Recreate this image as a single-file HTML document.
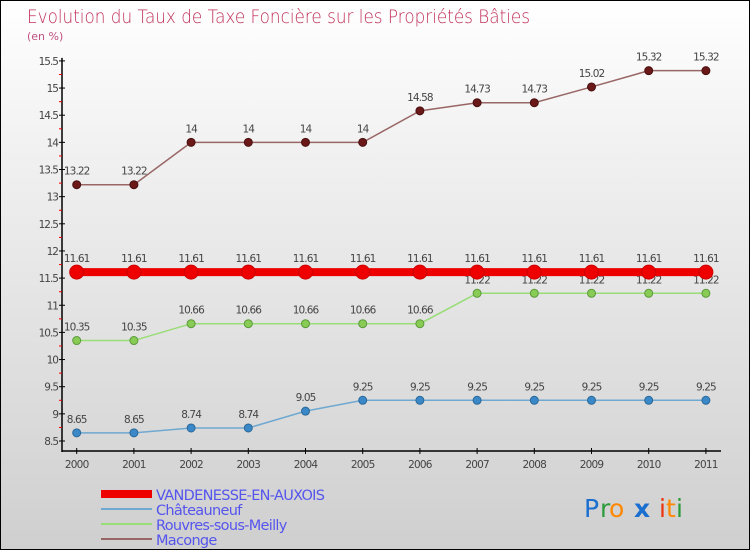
<!DOCTYPE html>
<html><head><meta charset="utf-8"><style>
body{margin:0}
#c{width:750px;height:550px;position:relative;box-sizing:border-box;border:1px solid #000;background:linear-gradient(#ffffff,#f2f2f2 25%,#cfcfcf);overflow:hidden;font-family:"DejaVu Sans","Liberation Sans",sans-serif}
svg text{font-family:"DejaVu Sans","Liberation Sans",sans-serif}
</style></head><body>
<div id="c">
<svg id="s" width="750" height="550" xmlns="http://www.w3.org/2000/svg">
<text x="26" y="22" font-size="19" fill="#c0305a" font-weight="200" textLength="503" lengthAdjust="spacingAndGlyphs">Evolution du Taux de Taxe Foncière sur les Propriétés Bâties</text>
<text x="26" y="39" font-size="11" fill="#c05080">(en %)</text>
<g id="axes"></g><g id="series"></g>
<g>
<rect x="100" y="489" width="51" height="8" fill="#ee0000"/>
<text x="155" y="499" font-size="14.5" fill="#5555ee" letter-spacing="-0.7">VANDENESSE-EN-AUXOIS</text>
<line x1="100" y1="508" x2="151" y2="508" stroke="#6fa8d0" stroke-width="2"/>
<text x="155" y="514" font-size="14.5" fill="#5555ee" letter-spacing="-0.7">Châteauneuf</text>
<line x1="100" y1="523" x2="151" y2="523" stroke="#99dd77" stroke-width="2"/>
<text x="155" y="529" font-size="14.5" fill="#5555ee" letter-spacing="-0.7">Rouvres-sous-Meilly</text>
<line x1="100" y1="538" x2="151" y2="538" stroke="#996666" stroke-width="2"/>
<text x="155" y="544" font-size="14.5" fill="#5555ee" letter-spacing="-0.7">Maconge</text>
</g>
<g font-size="25" font-family="Liberation Sans,sans-serif">
<text x="583" y="516" fill="#1a6fd0">P</text><text x="599" y="516" fill="#2a9a3a">r</text><text x="608" y="516" fill="#ff8800">o</text><text x="633" y="516" fill="#1a6fd0" font-weight="bold">x</text><text x="658" y="516" fill="#ee3311">i</text><text x="665" y="516" fill="#ff8800">t</text><text x="675" y="516" fill="#2a9a3a">i</text>
</g>
</svg>
</div>
<script>
const years=["2000","2001","2002","2003","2004","2005","2006","2007","2008","2009","2010","2011"];
const vandenesse=[11.61,11.61,11.61,11.61,11.61,11.61,11.61,11.61,11.61,11.61,11.61,11.61];
const chateauneuf=[8.65,8.65,8.74,8.74,9.05,9.25,9.25,9.25,9.25,9.25,9.25,9.25];
const rouvres=[10.35,10.35,10.66,10.66,10.66,10.66,10.66,11.22,11.22,11.22,11.22,11.22];
const maconge=[13.22,13.22,14,14,14,14,14.58,14.73,14.73,15.02,15.32,15.32];
const yTicks=[8.5,9,9.5,10,10.5,11,11.5,12,12.5,13,13.5,14,14.5,15,15.5];
const NS="http://www.w3.org/2000/svg";
const X=i=>75.7+i*57.2;
const Y=v=>440-(v-8.5)*54.3;
function mk(t,a,p){const e=document.createElementNS(NS,t);for(const k in a)e.setAttribute(k,a[k]);p.appendChild(e);return e;}
const ax=document.getElementById('axes');
let l=mk('line',{x1:61,y1:Y(15.5)-3,x2:61,y2:451,stroke:'#000','stroke-width':1.5},ax);


l=mk('line',{x1:61,y1:450,x2:720,y2:450,stroke:'#000','stroke-width':1.5},ax);


yTicks.forEach(v=>{
 const y=Y(v);
 mk('line',{x1:58,y1:y,x2:64,y2:y,stroke:'#000'},ax);
 mk('line',{x1:58,y1:y+13.6,x2:61,y2:y+13.6,stroke:v>8.5?'#e00':'none'},ax);
 const t=mk('text',{x:57,y:y+4,'font-size':10.5,fill:'#444','text-anchor':'end','letter-spacing':'-1'},ax);
 t.textContent=String(v);
 
 
});
years.forEach((yr,i)=>{
 mk('line',{x1:X(i),y1:447,x2:X(i),y2:453,stroke:'#000'},ax);
 const t=mk('text',{x:X(i),y:467,'font-size':10.5,fill:'#444','text-anchor':'middle','letter-spacing':'-0.8'},ax);
 t.textContent=yr;
 
 
});
const sg=document.getElementById('series');
function draw(vals,name,line,w,mfill,mstroke,r){
 const g=mk('g',{},sg);
 
 
 const p=mk('polyline',{points:vals.map((v,i)=>X(i)+','+Y(v)).join(' '),fill:'none',stroke:line,'stroke-width':w},g);
 
 
 vals.forEach((v,i)=>{
  const c=mk('circle',{cx:X(i),cy:Y(v),r:r,fill:mfill,stroke:mstroke,'stroke-width':1},g);
  
  
  const t=mk('text',{x:X(i),y:Y(v)-10,'font-size':10.5,fill:'#444','text-anchor':'middle','letter-spacing':'-0.9'},g);
  t.textContent=String(v);
  
  
 });
}
draw(chateauneuf,'chateauneuf','#6fa8d0',1.5,'#3a88c8','#2a6898',4);
draw(rouvres,'rouvres','#99dd77',1.5,'#88cc55','#5a9a3a',4);
draw(maconge,'maconge','#996666',1.5,'#6a1818','#4a1010',4);
draw(vandenesse,'vandenesse','#ee0000',8,'#ee0000','#cc0000',7);
</script>
</body></html>
